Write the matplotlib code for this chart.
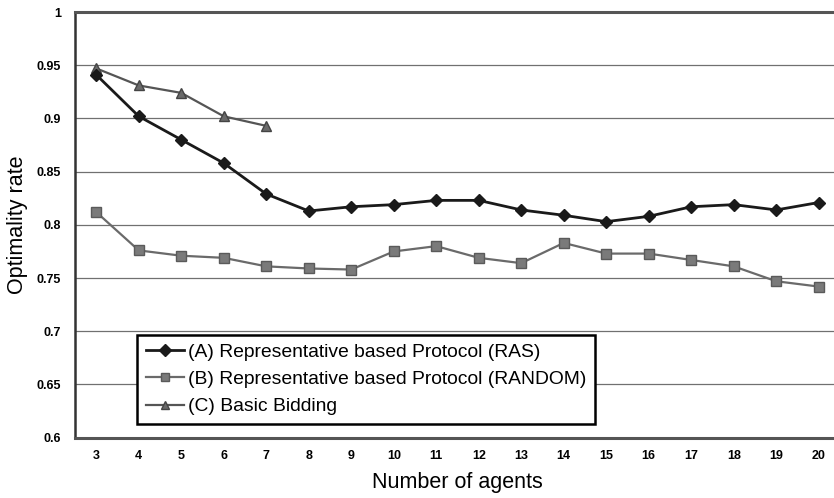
import matplotlib
matplotlib.use("Agg")
import matplotlib.pyplot as plt

agents = list(range(3, 21))
ras = [0.941, 0.902, 0.880, 0.858, 0.829, 0.813, 0.817, 0.819, 0.823, 0.823,
       0.814, 0.809, 0.803, 0.808, 0.817, 0.819, 0.814, 0.821]
random_ = [0.812, 0.776, 0.771, 0.769, 0.761, 0.759, 0.758, 0.775, 0.780, 0.769,
           0.764, 0.783, 0.773, 0.773, 0.767, 0.761, 0.747, 0.742]
basic_agents = [3, 4, 5, 6, 7]
basic = [0.947, 0.931, 0.924, 0.902, 0.893]
yticks = [0.6, 0.65, 0.7, 0.75, 0.8, 0.85, 0.9, 0.95, 1.0]
ytick_labels = ["0.6", "0.65", "0.7", "0.75", "0.8", "0.85", "0.9", "0.95", "1"]
labels = ["(A) Representative based Protocol (RAS)",
          "(B) Representative based Protocol (RANDOM)",
          "(C) Basic Bidding"]

plt.rcParams['font.family'] = ['Liberation Sans', 'DejaVu Sans']
fig = plt.figure(figsize=(8.34, 4.98), dpi=100)
L, R = 75/834, 840/834
ax = fig.add_axes([L, 1-437.7/498, R-L, (437.7-12)/498])

ax.plot(agents, ras, color="#1a1a1a", lw=2.0, marker="D", ms=6.5, label=labels[0], zorder=4)
ax.plot(agents, random_, color="#6a6a6a", lw=1.6, marker="s", ms=7.5, mfc="#7a7a7a", mec="#5a5a5a", label=labels[1], zorder=3)
ax.plot(basic_agents, basic, color="#555555", lw=1.6, marker="^", ms=7.5, mfc="#6a6a6a", mec="#444444", label=labels[2], zorder=3)

ax.set_xlim(2.5, 20.5)
ax.set_ylim(0.6, 1.0)
ax.set_xticks(agents)
ax.set_xticklabels([str(a) for a in agents], fontsize=9, fontweight="bold")
ax.set_yticks(yticks)
ax.set_yticklabels(ytick_labels, fontsize=9, fontweight="bold")
ax.tick_params(axis="both", length=0, pad=9)
ax.tick_params(axis="y", pad=10)
ax.yaxis.grid(True, color="#707070", lw=0.9)
ax.set_axisbelow(True)
for s in ["top", "bottom"]:
    ax.spines[s].set_color("#555555")
    ax.spines[s].set_linewidth(2.2)
ax.spines["left"].set_color("#333333")
ax.spines["left"].set_linewidth(1.8)
ax.spines["right"].set_visible(False)

ax.set_xlabel("Number of agents", fontsize=15.5, labelpad=7)
ax.set_ylabel("Optimality rate", fontsize=15.5, labelpad=6)

leg = ax.legend(loc="lower left", bbox_to_anchor=((137-75)/765, (437.7-424)/425.7),
                fontsize=13.9, frameon=True, fancybox=False, borderpad=0.45,
                handlelength=2.0, handletextpad=0.2, labelspacing=0.5,
                borderaxespad=0)
leg.get_frame().set_edgecolor("black")
leg.get_frame().set_linewidth(1.8)
leg.get_frame().set_alpha(1)
for h in leg.legend_handles:
    h.set_markersize(6)

fig.savefig("out.png", dpi=100)
